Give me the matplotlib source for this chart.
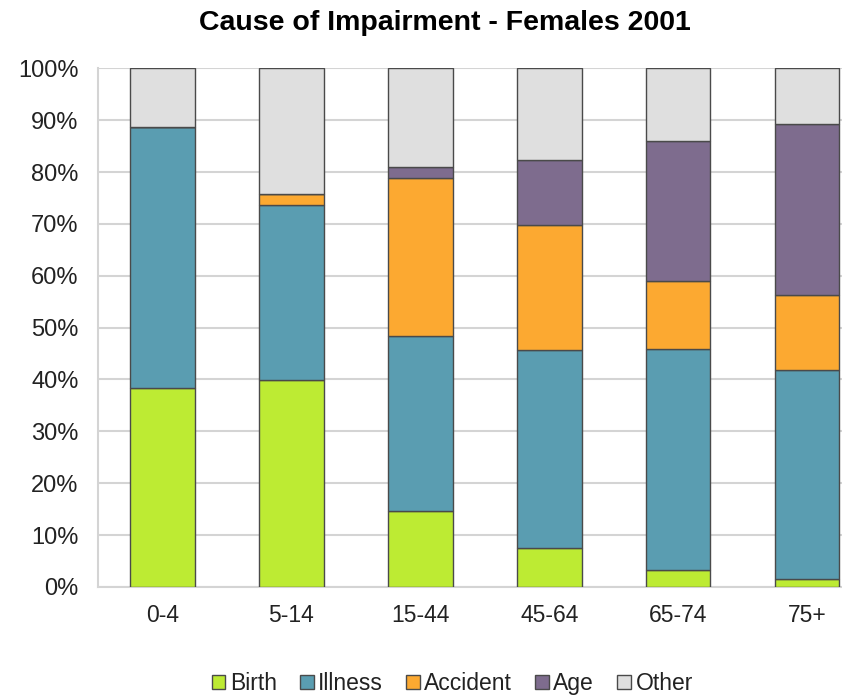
import matplotlib
matplotlib.use("Agg")
import matplotlib.pyplot as plt
import numpy as np

plt.rcParams['font.family'] = ['Liberation Sans', 'DejaVu Sans']

# age groups and cause shares (percent)
groups = ["0-4", "5-14", "15-44", "45-64", "65-74", "75+"]
birth = [38.4, 39.8, 14.7, 7.4, 3.2, 1.6]
illness = [50.2, 33.9, 33.7, 38.3, 42.7, 40.2]
accident = [0.0, 2.0, 30.4, 24.1, 13.1, 14.5]
age = [0.0, 0.0, 2.1, 12.6, 26.9, 32.9]
other = [11.4, 24.3, 19.1, 17.6, 14.1, 10.8]

names = ["Birth", "Illness", "Accident", "Age", "Other"]
colors = ["#bdeb33", "#5a9db1", "#fca931", "#7e6c8e", "#dfdfdf"]

fig = plt.figure(figsize=(8.42, 6.97), dpi=100)
ax = fig.add_axes([0.1164, 0.158, 0.8836, 0.744])

x = np.arange(len(groups))
bottom = np.zeros(len(groups))
for vals, name, col in zip([birth, illness, accident, age, other], names, colors):
    v = np.array(vals)
    ax.bar(x, v, 0.5, bottom=bottom, color=col, edgecolor="#4a4a4a",
           linewidth=1.0, label=name, zorder=3)
    bottom = bottom + v

ax.set_ylim(0, 100)
ax.set_xlim(-0.5, 5.27)
ax.set_yticks(np.arange(0, 101, 10))
ax.set_yticklabels([f"{t}%" for t in range(0, 101, 10)], fontsize=17)
ax.set_xticks(x)
ax.set_xticklabels(groups, fontsize=16.5)
ax.tick_params(length=0, labelcolor="#222222")
ax.tick_params(axis='y', pad=14)
ax.tick_params(axis='x', pad=12)
ax.grid(axis='y', color="#d4d4d4", linewidth=1.5, zorder=0)
for s in ["top", "right"]:
    ax.spines[s].set_visible(False)
ax.spines["left"].set_color("#d4d4d4")
ax.spines["left"].set_linewidth(1.5)
ax.spines["bottom"].set_color("#d4d4d4")
ax.spines["bottom"].set_linewidth(1.5)

fig.suptitle("Cause of Impairment - Females 2001", fontsize=20.5, fontweight="bold",
             x=0.528, y=0.985)

leg = fig.legend(loc="lower center", ncol=5, bbox_to_anchor=(0.537, -0.027), frameon=False,
                 fontsize=16.5, handlelength=0.6, handleheight=0.6, handletextpad=0.2,
                 columnspacing=1.0)
for t in leg.get_texts():
    t.set_color("#222222")

fig.savefig("out.png", dpi=100)
